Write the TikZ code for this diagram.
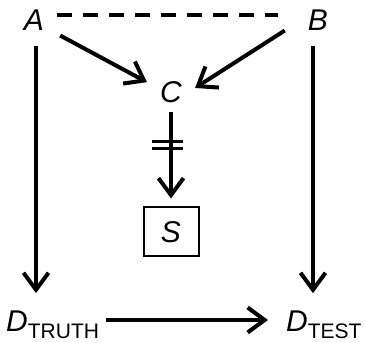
\documentclass[tikz,border=0pt]{standalone}
\usepackage{fontspec}
\setmainfont{Liberation Sans}
\usetikzlibrary{arrows.meta,calc}

\tikzset{
  var/.style={inner sep=0pt, font=\fontsize{30}{34}\selectfont\itshape},
  link/.style={line width=4pt},
  arr/.style={link, -{Straight Barb[length=17pt,width=25pt]}},
  boxed/.style={draw, line width=2pt, minimum width=55pt, minimum height=49pt, inner sep=0pt, font=\fontsize{30}{34}\selectfont\itshape}
}
\newcommand{\lowsub}[1]{\raisebox{-7pt}{\fontsize{21}{24}\selectfont\upshape #1}}

\begin{document}
\begin{tikzpicture}[x=1pt,y=1pt]
\useasboundingbox (0,0) rectangle (365,343);

% variables
\node[var] (A) at (34,323) {A};
\node[var] (B) at (318,323) {B};
\node[var] (C) at (171,251) {C};
\node[boxed] (S) at (171,111) {S};
\node[var, anchor=base west] (Dt) at (6,11) {D\lowsub{TRUTH}};
\node[var, anchor=base west] (Ds) at (286,11) {D\lowsub{TEST}};

% A and B are confounded
\draw[link, dash pattern=on 15pt off 11pt] ($(A.east)+(13,5)$) -- ($(B.west)+(-30,5)$);

% both cause C
\draw[arr] ($(A.south east)+(16,-5)$) -- ($(C.north west)+(-13,-1)$);
\draw[arr] ($(B.south west)+(-23,0)$) -- ($(C.east)+(13,4)$);

% C into the selection node, cut
\draw[arr] ($(C.south)+(0,-9)$) -- ($(S.north)+(0,8)$);
\draw[line width=3.3pt] ($(C.south)+(-19,-39)$) -- ++(31,0);
\draw[line width=3.3pt] ($(C.south)+(-19,-46)$) -- ++(31,0);

% down to the data
\draw[arr] ($(A.south)+(2,-15)$) -- ($(A.south |- Dt.north)+(2,18)$);
\draw[arr] ($(B.south)+(-5,-15)$) -- ($(B.south |- Ds.north)+(-5,18)$);
\draw[arr] ($(Dt.base east)+(7,12)$) -- ($(Ds.base west)+(-18,12)$);

\end{tikzpicture}
\end{document}
